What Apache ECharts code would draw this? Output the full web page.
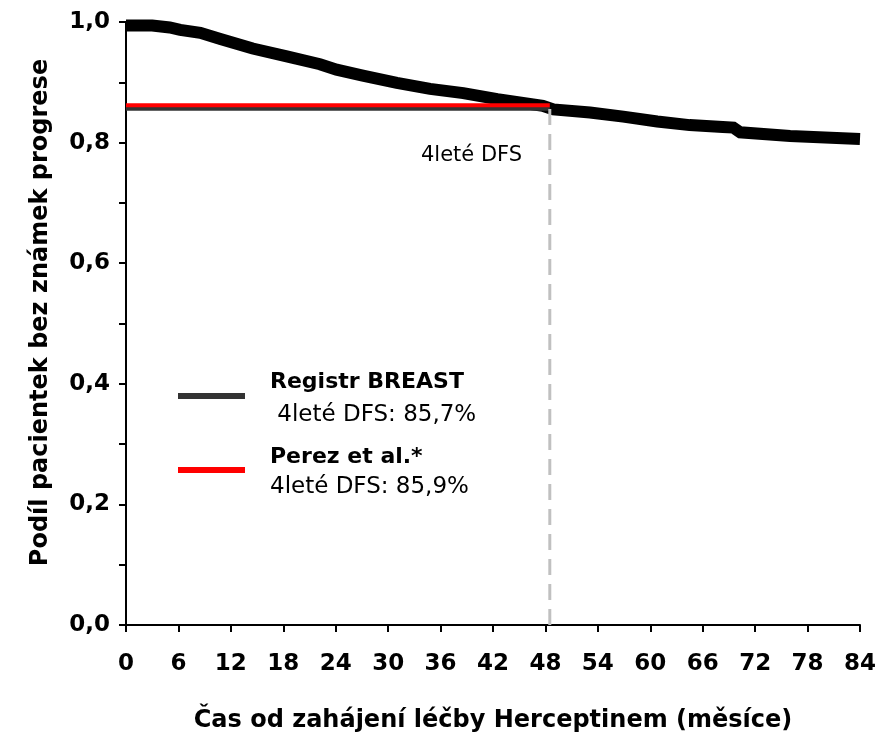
<!DOCTYPE html>
<html>
<head>
<meta charset="utf-8">
<script src="https://cdn.jsdelivr.net/npm/echarts@6/dist/echarts.min.js"></script>
<style>
  html, body { margin: 0; padding: 0; background: #fff; }
  #chart { width: 881px; height: 739px; }
</style>
</head>
<body>
<div id="chart"></div>
<script>
// Kaplan-Meier curve
const months = [0, 3, 5, 6.2, 8.5, 10.8, 14.5, 18.4, 22.2, 24.1, 27.1, 31, 34.8, 38.6, 42.5, 47.7, 48.9, 53.1, 56.9, 60.8, 64.5, 68.3, 69.5, 70.3, 76, 84];
const survival = [0.994, 0.994, 0.991, 0.987, 0.982, 0.972, 0.956, 0.943, 0.930, 0.921, 0.911, 0.899, 0.889, 0.882, 0.872, 0.861, 0.855, 0.850, 0.843, 0.835, 0.829, 0.826, 0.825, 0.817, 0.811, 0.806];

// 4-year DFS reference lines
const refMonths = [0, 48.5];
const registrDfs = 0.856;
const perezDfs = 0.862;
const dfsMonth = 48.5;

const xTicks = [0, 6, 12, 18, 24, 30, 36, 42, 48, 54, 60, 66, 72, 78, 84];

const font = 'DejaVu Sans';

const chart = echarts.init(document.getElementById('chart'));

const option = {
    animation: false,
    backgroundColor: '#fff',
    grid: { left: 126, right: 21, top: 22, bottom: 114 },
    xAxis: {
        type: 'value',
        min: xTicks[0],
        max: xTicks[xTicks.length - 1],
        interval: 6,
        name: 'Čas od zahájení léčby Herceptinem (měsíce)',
        nameLocation: 'middle',
        nameGap: 84,
        nameTextStyle: { fontFamily: font, fontWeight: 'bold', fontSize: 24, color: '#000' },
        axisLine: { lineStyle: { color: '#000', width: 2 } },
        axisTick: { length: 7, lineStyle: { color: '#000', width: 2 } },
        axisLabel: { margin: 28, fontFamily: font, fontWeight: 'bold', fontSize: 23, color: '#000' },
        splitLine: { show: false }
    },
    yAxis: {
        type: 'value',
        min: 0,
        max: 1,
        interval: 0.2,
        name: 'Podíl pacientek bez známek progrese',
        nameLocation: 'middle',
        nameGap: 73,
        nameTextStyle: { fontFamily: font, fontWeight: 'bold', fontSize: 24, color: '#000', padding: [0, 0, 0, 22] },
        axisLine: { show: true, lineStyle: { color: '#000', width: 2 } },
        axisTick: { show: true, length: 7, lineStyle: { color: '#000', width: 2 } },
        minorTick: { show: true, splitNumber: 2, length: 7, lineStyle: { color: '#000', width: 2 } },
        axisLabel: {
            margin: 16, fontFamily: font, fontWeight: 'bold', fontSize: 23, color: '#000',
            formatter: v => v.toFixed(1).replace('.', ',')
        },
        splitLine: { show: false }
    },
    series: [
        {
            type: 'line',
            data: months.map((m, i) => [m, survival[i]]),
            symbol: 'none',
            lineStyle: { color: '#000', width: 12, cap: 'butt', join: 'miter' },
            z: 2
        },
        {
            type: 'line',
            data: refMonths.map(m => [m, registrDfs]),
            symbol: 'none',
            lineStyle: { color: '#333', width: 4, cap: 'butt' },
            z: 3
        },
        {
            type: 'line',
            data: refMonths.map(m => [m, perezDfs]),
            symbol: 'none',
            lineStyle: { color: '#ff0000', width: 4, cap: 'butt' },
            z: 4
        },
        {
            type: 'line',
            data: [[dfsMonth, 0], [dfsMonth, registrDfs]],
            symbol: 'none',
            lineStyle: { color: '#c0c0c0', width: 3, type: [16, 9], cap: 'butt' },
            z: 5
        }
    ],
    graphic: [
        { type: 'text', x: 421, y: 156, style: { text: '4leté DFS', font: '21px ' + font, fill: '#000', verticalAlign: 'middle' } },
        { type: 'line', shape: { x1: 178, y1: 396, x2: 245, y2: 396 }, style: { stroke: '#333', lineWidth: 6 } },
        { type: 'line', shape: { x1: 178, y1: 470, x2: 245, y2: 470 }, style: { stroke: '#ff0000', lineWidth: 6 } },
        { type: 'text', x: 270, y: 382, style: { text: 'Registr BREAST', font: 'bold 22px ' + font, fill: '#000', verticalAlign: 'middle' } },
        { type: 'text', x: 270, y: 415, style: { text: ' 4leté DFS: 85,7%', font: '23px ' + font, fill: '#000', verticalAlign: 'middle' } },
        { type: 'text', x: 270, y: 457, style: { text: 'Perez et al.*', font: 'bold 22px ' + font, fill: '#000', verticalAlign: 'middle' } },
        { type: 'text', x: 270, y: 487, style: { text: '4leté DFS: 85,9%', font: '23px ' + font, fill: '#000', verticalAlign: 'middle' } }
    ]
};

chart.setOption(option);
</script>
</body>
</html>
